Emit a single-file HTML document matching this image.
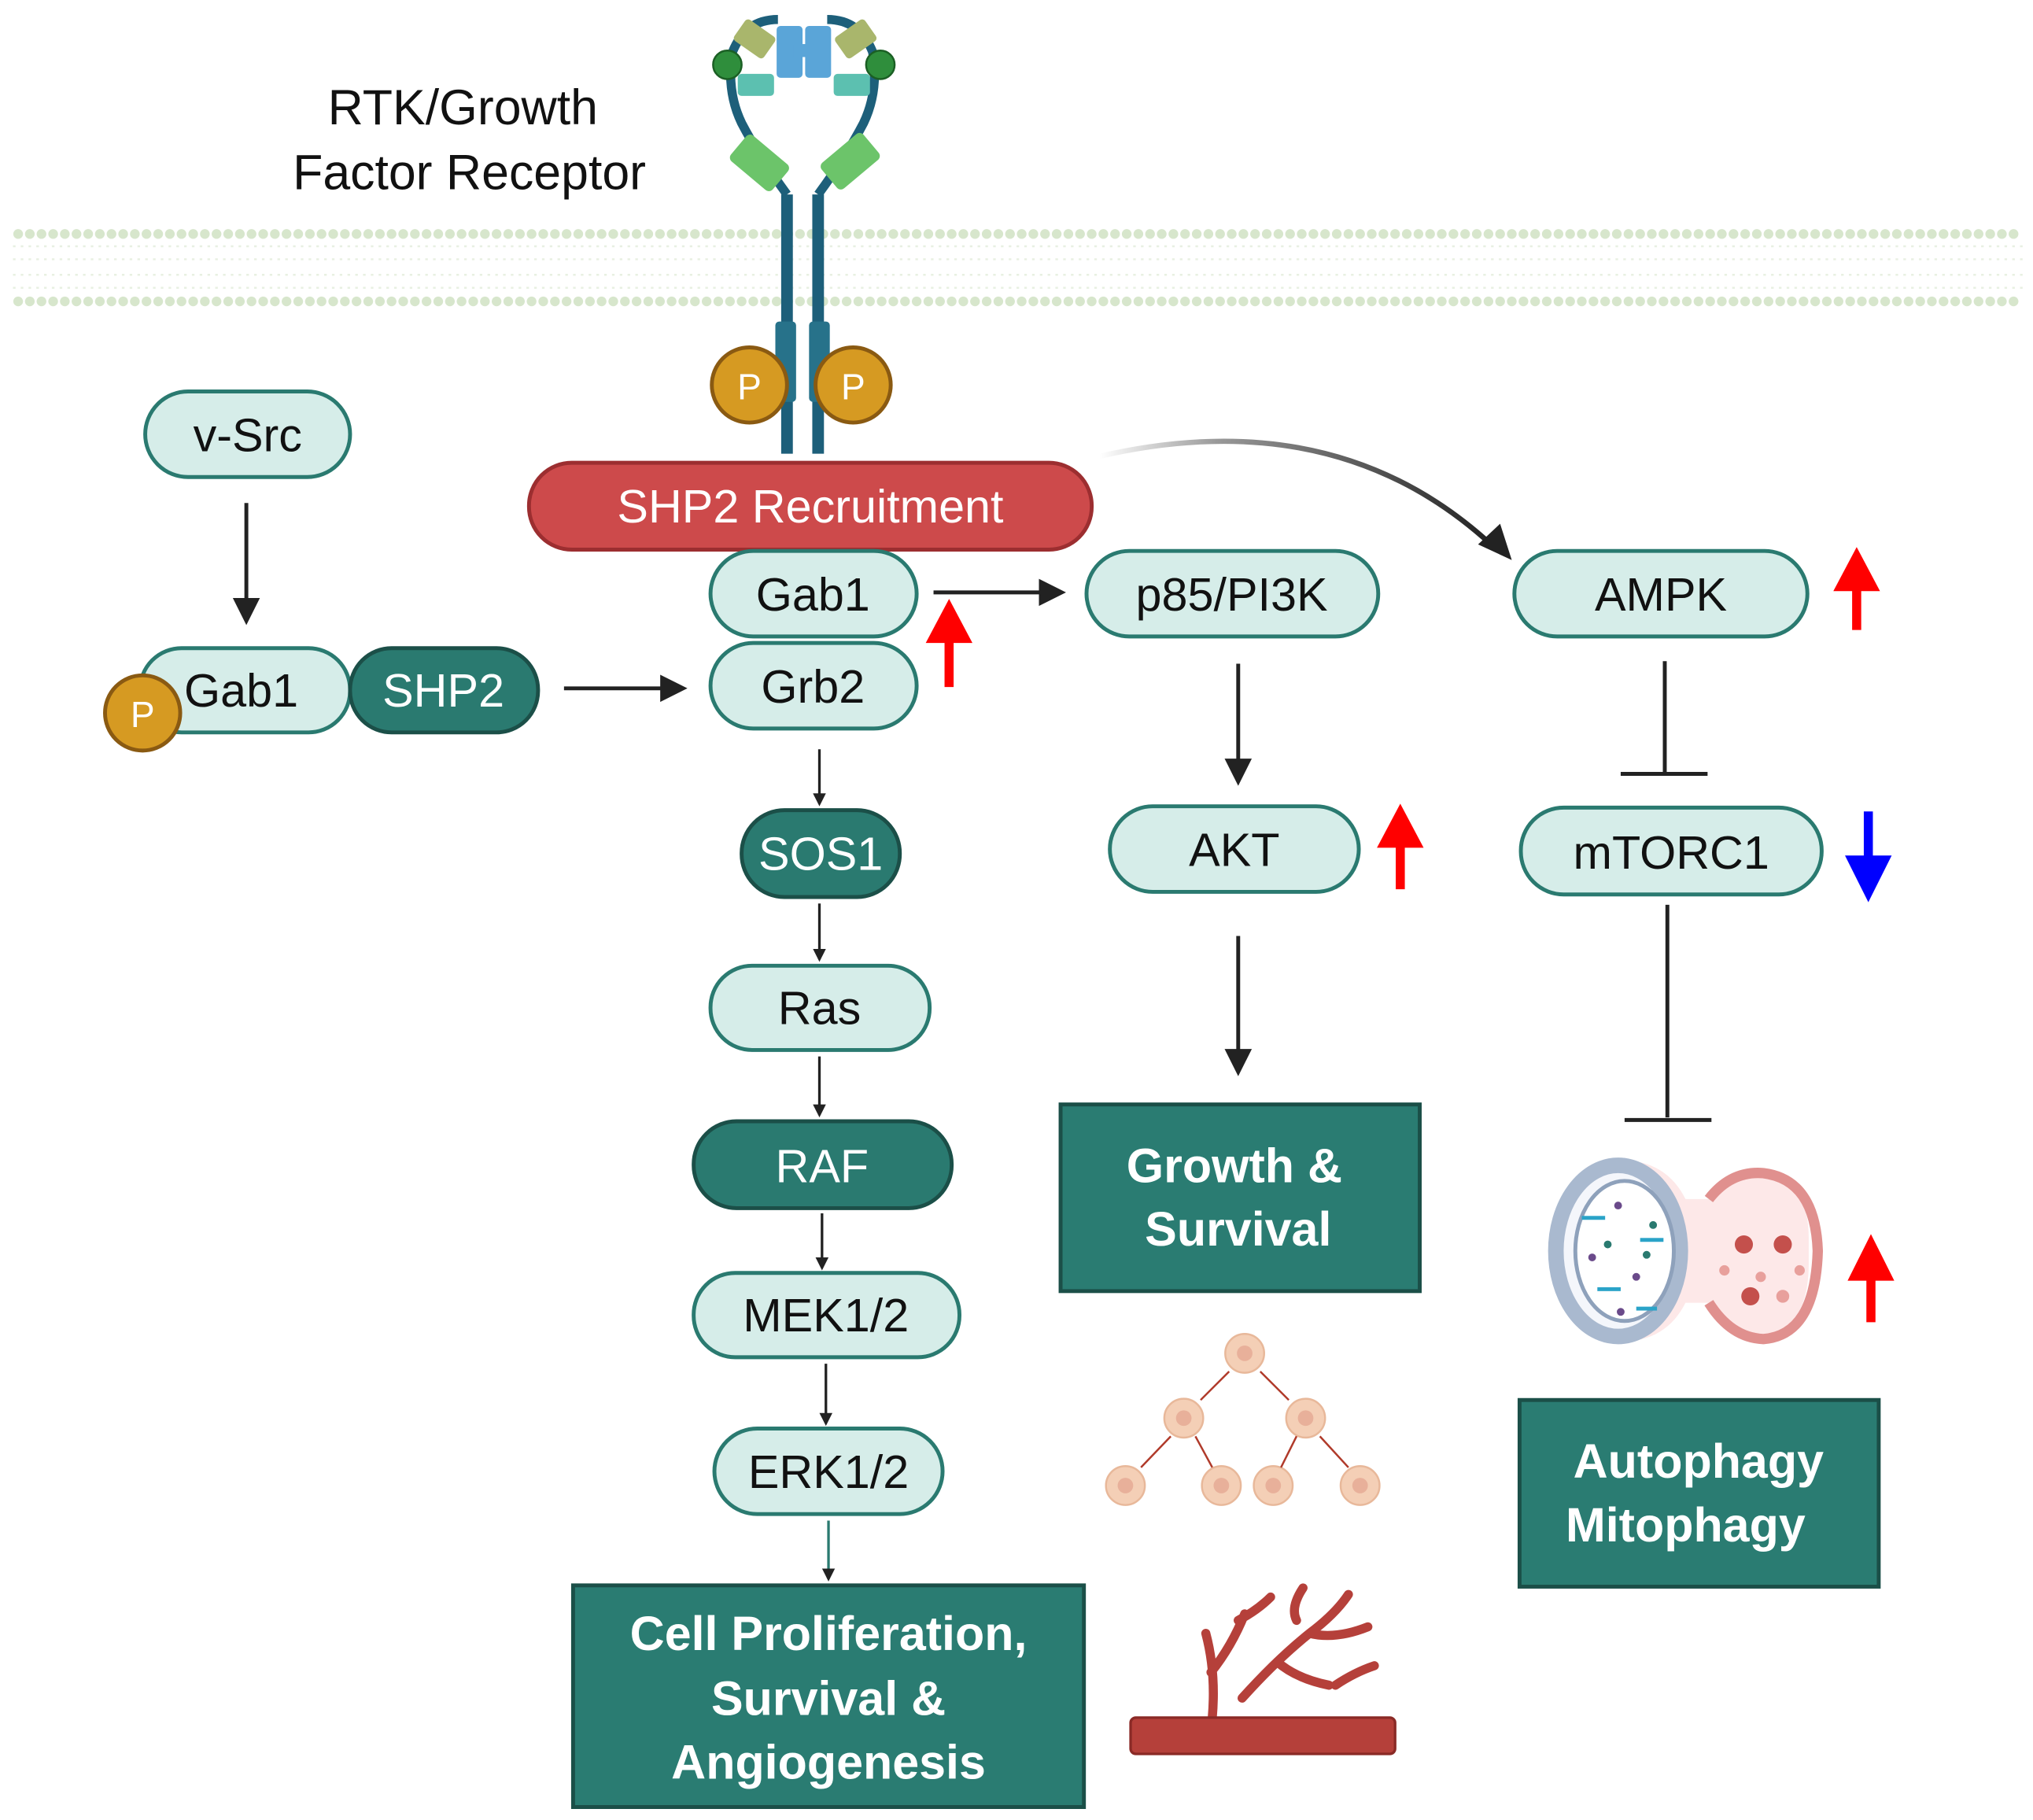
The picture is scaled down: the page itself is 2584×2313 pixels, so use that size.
<!DOCTYPE html>
<html><head><meta charset="utf-8"><style>
html,body{margin:0;padding:0;background:#fff}
svg{display:block}
text{font-family:"Liberation Sans",sans-serif}
</style></head><body>
<svg width="2584" height="2313" viewBox="0 0 1568 1404" preserveAspectRatio="none">
<defs>
<marker id="ah" viewBox="0 0 10 10" refX="8" refY="5" markerWidth="5" markerHeight="5" orient="auto"><path d="M0,0L10,5L0,10z" fill="#222"/></marker>
<marker id="ahs" viewBox="0 0 10 10" refX="8" refY="5" markerWidth="7" markerHeight="7" orient="auto"><path d="M0,0L10,5L0,10z" fill="#222"/></marker>
<linearGradient id="cg" x1="0" y1="0" x2="1" y2="0"><stop offset="0" stop-color="#fff"/><stop offset="0.3" stop-color="#999"/><stop offset="1" stop-color="#222"/></linearGradient>
</defs>
<!-- membrane -->
<g>
<g stroke="#d7e6cc" stroke-width="7.5" stroke-linecap="round" stroke-dasharray="0 9">
<path d="M14 180.5H1562"/>
<path d="M14 232.5H1562"/>
</g>
<g stroke="#e8f0e2" stroke-width="1.5">
<path d="M10 190H1562M10 200H1562M10 212H1562M10 222H1562" stroke-dasharray="2 4"/>
</g>
</g>
<!-- receptor -->
<g>
<path d="M607 350V205V150" stroke="#1d5f7a" stroke-width="9" fill="none"/>
<path d="M631 350V205V150" stroke="#1d5f7a" stroke-width="9" fill="none"/>
<path d="M607 150 Q585 120 572 95 Q560 70 565 40 Q575 15 600 15" stroke="#1d5f7a" stroke-width="7" fill="none"/>
<path d="M631 150 Q653 120 666 95 Q678 70 673 40 Q663 15 638 15" stroke="#1d5f7a" stroke-width="7" fill="none"/>
<rect x="598" y="248" width="16" height="62" rx="3" fill="#27728a"/>
<rect x="624" y="248" width="16" height="62" rx="3" fill="#27728a"/>
<rect x="599" y="20" width="20" height="40" rx="3" fill="#5aa5d8"/>
<rect x="621" y="20" width="20" height="40" rx="3" fill="#5aa5d8"/>
<rect x="612" y="34" width="16" height="10" fill="#5aa5d8"/>
<g transform="rotate(35 582 30)"><rect x="568" y="20" width="28" height="20" rx="3" fill="#a9b66c"/></g>
<g transform="rotate(-35 660 30)"><rect x="646" y="20" width="28" height="20" rx="3" fill="#a9b66c"/></g>
<rect x="569" y="57" width="28" height="17" rx="3" fill="#5cc0b0"/>
<rect x="643" y="57" width="28" height="17" rx="3" fill="#5cc0b0"/>
<g transform="rotate(40 585 125)"><rect x="565" y="112" width="42" height="26" rx="4" fill="#6cc46a"/></g>
<g transform="rotate(-40 655 125)"><rect x="635" y="112" width="42" height="26" rx="4" fill="#6cc46a"/></g>
<circle cx="561" cy="50" r="11" fill="#2f8e3c" stroke="#1b5f24" stroke-width="1.5"/>
<circle cx="679" cy="50" r="11" fill="#2f8e3c" stroke="#1b5f24" stroke-width="1.5"/>
<circle cx="578" cy="297" r="29" fill="#d69a22" stroke="#8a5a12" stroke-width="3"/>
<circle cx="658" cy="297" r="29" fill="#d69a22" stroke="#8a5a12" stroke-width="3"/>
<text x="578" y="308" font-size="28" fill="#fff" text-anchor="middle">P</text>
<text x="658" y="308" font-size="28" fill="#fff" text-anchor="middle">P</text>
</g>
<text x="357" y="96" font-size="38" text-anchor="middle" fill="#111">RTK/Growth</text>
<text x="362" y="146" font-size="38" text-anchor="middle" fill="#111">Factor Receptor</text>

<rect x="408" y="357" width="434" height="67" rx="33" fill="#cd4a4b" stroke="#9c2e30" stroke-width="3"/>
<text x="625" y="403" font-size="36" fill="#fff" text-anchor="middle">SHP2 Recruitment</text>

<g font-size="36" text-anchor="middle" stroke-width="3">
<g fill="#d6ede9" stroke="#2a7a70">
<rect x="112" y="302" width="158" height="66" rx="33"/>
<rect x="108" y="500" width="162" height="65" rx="32"/>
<rect x="548" y="425" width="159" height="66" rx="33"/>
<rect x="548" y="496" width="159" height="66" rx="33"/>
<rect x="838" y="425" width="225" height="66" rx="33"/>
<rect x="1168" y="425" width="226" height="66" rx="33"/>
<rect x="548" y="745" width="169" height="65" rx="32"/>
<rect x="535" y="982" width="205" height="65" rx="32"/>
<rect x="551" y="1102" width="176" height="66" rx="33"/>
<rect x="856" y="622" width="192" height="66" rx="33"/>
<rect x="1173" y="623" width="232" height="67" rx="33"/>
</g>
<g fill="#2a7a70" stroke="#1b4f48">
<rect x="270" y="500" width="145" height="65" rx="32"/>
<rect x="572" y="625" width="122" height="67" rx="33"/>
<rect x="535" y="865" width="199" height="67" rx="33"/>
</g>
<g fill="#111" stroke="none">
<text x="191" y="348">v-Src</text>
<text x="186" y="545">Gab1</text>
<text x="627" y="471">Gab1</text>
<text x="627" y="542">Grb2</text>
<text x="950" y="471">p85/PI3K</text>
<text x="1281" y="471">AMPK</text>
<text x="632" y="790">Ras</text>
<text x="637" y="1027">MEK1/2</text>
<text x="639" y="1148">ERK1/2</text>
<text x="952" y="668">AKT</text>
<text x="1289" y="670">mTORC1</text>
</g>
<g fill="#fff" stroke="none">
<text x="342" y="545">SHP2</text>
<text x="633" y="671">SOS1</text>
<text x="634" y="912">RAF</text>
</g>
</g>
<circle cx="110" cy="550" r="29" fill="#d69a22" stroke="#8a5a12" stroke-width="3"/>
<text x="110" y="561" font-size="28" fill="#fff" text-anchor="middle">P</text>

<g stroke="#222" stroke-width="3" fill="none">
<path d="M190 388V478" marker-end="url(#ahs)"/>
<path d="M435 531H526" marker-end="url(#ahs)"/>
<path d="M720 457H818" marker-end="url(#ahs)"/>
<path d="M955 512V602" marker-end="url(#ahs)"/>
<path d="M955 722V826" marker-end="url(#ahs)"/>
<path d="M1284 510V597M1250 597H1317"/>
<path d="M1286 698V862M1253 864H1320"/>
</g>
<g stroke="#222" stroke-width="2" fill="none">
<path d="M632 578V620" marker-end="url(#ah)"/>
<path d="M632 697V740" marker-end="url(#ah)"/>
<path d="M632 815V860" marker-end="url(#ah)"/>
<path d="M634 936V978" marker-end="url(#ah)"/>
<path d="M637 1052V1098" marker-end="url(#ah)"/>
<path d="M639 1173V1218" stroke="#2a7a70" marker-end="url(#ah)"/>
</g>
<path d="M848 352 Q1030 310 1150 420" stroke="url(#cg)" stroke-width="4" fill="none"/>
<path d="M1166 432 L1140 420 L1157 404 Z" fill="#222"/>

<g>
<path d="M732 530V494" stroke="#f00" stroke-width="7"/>
<path d="M714 496L732 462L750 496Z" fill="#f00"/>
<path d="M1080 686V650" stroke="#f00" stroke-width="7"/>
<path d="M1062 654L1080 620L1098 654Z" fill="#f00"/>
<path d="M1432 486V452" stroke="#f00" stroke-width="7"/>
<path d="M1414 456L1432 422L1450 456Z" fill="#f00"/>
<path d="M1443 1020V982" stroke="#f00" stroke-width="7"/>
<path d="M1425 988L1443 952L1461 988Z" fill="#f00"/>
<path d="M1441 626V664" stroke="#00f" stroke-width="7"/>
<path d="M1423 660L1441 696L1459 660Z" fill="#00f"/>
</g>

<g stroke="#1b4f48" stroke-width="3" fill="#2a7c72">
<rect x="818" y="852" width="277" height="144"/>
<rect x="442" y="1223" width="394" height="171"/>
<rect x="1172" y="1080" width="277" height="144"/>
</g>
<g font-size="37" font-weight="bold" fill="#fff" text-anchor="middle">
<text x="952" y="912">Growth &amp;</text>
<text x="955" y="961">Survival</text>
<text x="639" y="1273">Cell Proliferation,</text>
<text x="639" y="1323">Survival &amp;</text>
<text x="639" y="1372">Angiogenesis</text>
<text x="1310" y="1140">Autophagy</text>
<text x="1300" y="1189">Mitophagy</text>
</g>

<g fill="#f4cfb6" stroke="#e8b89a" stroke-width="1.5">
<circle cx="960" cy="1044" r="15"/>
<circle cx="913" cy="1094" r="15"/>
<circle cx="1007" cy="1094" r="15"/>
<circle cx="868" cy="1146" r="15"/>
<circle cx="942" cy="1146" r="15"/>
<circle cx="982" cy="1146" r="15"/>
<circle cx="1049" cy="1146" r="15"/>
</g>
<g fill="#e8b09a"><circle cx="960" cy="1044" r="6"/><circle cx="913" cy="1094" r="6"/><circle cx="1007" cy="1094" r="6"/><circle cx="868" cy="1146" r="6"/><circle cx="942" cy="1146" r="6"/><circle cx="982" cy="1146" r="6"/><circle cx="1049" cy="1146" r="6"/></g>
<g stroke="#b03a2a" stroke-width="1.5" fill="none">
<path d="M948 1058L926 1080M972 1058L994 1080M903 1108L880 1132M922 1108L935 1132M1000 1108L988 1132M1018 1108L1040 1132"/>
</g>
<g fill="none" stroke="#b5403a" stroke-width="7" stroke-linecap="round">
<path d="M935 1325 Q938 1290 930 1260 M934 1290 Q950 1270 960 1245 M958 1310 Q985 1280 1010 1260 Q1030 1245 1040 1230 M1010 1260 Q1030 1265 1055 1255 M985 1282 Q1000 1295 1025 1300 M1030 1300 Q1045 1290 1060 1285 M1000 1250 Q995 1240 1005 1225 M955 1250 Q970 1242 980 1232"/>
</g>
<rect x="872" y="1325" width="204" height="28" rx="4" fill="#b5403a" stroke="#8a2a26" stroke-width="2"/>
<g>
<path d="M1395 955 Q1395 910 1360 905 Q1335 903 1318 925 L1300 925 Q1285 895 1250 895 Q1198 900 1197 965 Q1200 1030 1250 1035 Q1285 1035 1300 1005 L1318 1005 Q1335 1030 1360 1030 Q1395 1025 1395 975 Z" fill="#fde8e8" stroke="none"/>
<path d="M1318 925 Q1335 903 1360 905 Q1400 910 1402 965 Q1400 1030 1360 1033 Q1335 1032 1318 1005" fill="none" stroke="#e0908e" stroke-width="8"/>
<ellipse cx="1248" cy="965" rx="48" ry="66" fill="#f4f6fb" stroke="#a9b9cf" stroke-width="12"/>
<ellipse cx="1253" cy="965" rx="38" ry="54" fill="#fff" stroke="#8ea1bb" stroke-width="3"/>
<g fill="#2aa3c8"><rect x="1220" y="938" width="18" height="3"/><rect x="1232" y="993" width="18" height="3"/><rect x="1265" y="955" width="18" height="3"/><rect x="1262" y="1008" width="16" height="3"/></g>
<g fill="#6a4a8a"><circle cx="1248" cy="930" r="3"/><circle cx="1228" cy="970" r="3"/><circle cx="1262" cy="985" r="3"/><circle cx="1250" cy="1012" r="3"/></g>
<g fill="#2a7a70"><circle cx="1275" cy="945" r="3"/><circle cx="1240" cy="960" r="3"/><circle cx="1270" cy="968" r="3"/></g>
<g fill="#c4504c"><circle cx="1345" cy="960" r="7"/><circle cx="1375" cy="960" r="7"/><circle cx="1350" cy="1000" r="7"/></g>
<g fill="#e8a09c"><circle cx="1330" cy="980" r="4"/><circle cx="1375" cy="1000" r="5"/><circle cx="1388" cy="980" r="4"/><circle cx="1358" cy="985" r="4"/></g>
</g>
</svg>
</body></html>
